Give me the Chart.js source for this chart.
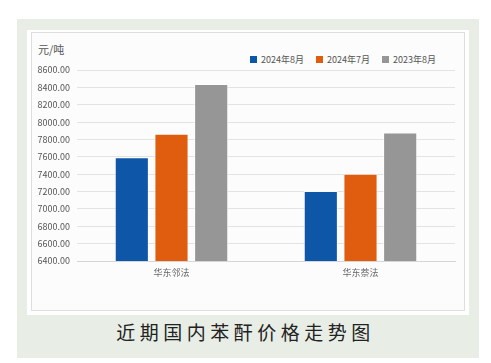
<!DOCTYPE html>
<html>
<head>
<meta charset="utf-8">
<script src="https://cdn.jsdelivr.net/npm/chart.js@4/dist/chart.umd.min.js"></script>
<style>
    html, body { margin: 0; padding: 0; background: #fff; }
    body { width: 491px; height: 363px; position: relative; overflow: hidden;
        font-family: "Noto Sans CJK SC", "Noto Sans", sans-serif; }
    .panel { position: absolute; left: 17px; top: 19px; width: 462px; height: 339px; background: #e8eee6; }
    .card { position: absolute; left: 27px; top: 30px; width: 442px; height: 285px;
        background: #fff; }
    .card-in { position: absolute; left: 31px; top: 32px; width: 434px; height: 279px;
        background: #fcfcfc; border: 1px solid #dedede; box-sizing: border-box; }
    .unit { position: absolute; left: 38px; top: 41px; font-size: 11px; color: #555; }
    .legend { position: absolute; left: 250px; top: 53px; font-size: 9px; color: #555; display: flex; }
    .legend span { display: inline-flex; align-items: center; margin-right: 12px; }
    .legend i { display: inline-block; width: 7px; height: 7px; margin-right: 4px; }
    .title { position: absolute; left: 0; width: 491px; top: 318px; text-align: center;
        font-size: 19px; letter-spacing: 4.5px; color: #222; }
    .wrap { position: absolute; left: 31px; top: 33px; width: 435px; height: 278px; }
    .wrap canvas { display: block; }
</style>
</head>
<body>
<div class="panel"></div>
<div class="card"></div>
<div class="card-in"></div>
<div class="unit">元/吨</div>
<div class="legend" id="legend"></div>
<div class="title">近期国内苯酐价格走势图</div>
<div class="wrap">
    <canvas id="chart" width="435" height="278"></canvas>
</div>
<script>
// categories and series (元/吨)
const categories = ['华东邻法', '华东萘法'];
const seriesNames = ['2024年8月', '2024年7月', '2023年8月'];
const aug2024 = [7595, 7205];
const jul2024 = [7865, 7405];
const aug2023 = [8440, 7880];
const colors = ['#0e56a7', '#e05c0e', '#969696'];

const yMin = 6400, yMax = 8600, yStep = 200;

// legend (html)
const legendEl = document.getElementById('legend');
seriesNames.forEach((name, i) => {
    legendEl.innerHTML += `<span><i style="background:${colors[i]}"></i>${name}</span>`;
});

const datasets = [aug2024, jul2024, aug2023].map((data, i) => ({
    label: seriesNames[i],
    data,
    backgroundColor: colors[i],
    borderColor: 'rgba(255,255,255,0.7)',
    borderWidth: 1,
    categoryPercentage: 0.63,
    barPercentage: 0.86,
}));

new Chart(document.getElementById('chart'), {
    type: 'bar',
    data: { labels: categories, datasets },
    options: {
        responsive: false,
        animation: false,
        layout: { padding: { top: 37, right: 11, left: 0, bottom: 0 } },
        plugins: { legend: { display: false }, tooltip: { enabled: false } },
        scales: {
            x: {
                grid: { display: false, drawTicks: false },
                border: { color: '#d6d6d6' },
                ticks: { color: '#666', font: { size: 9, family: 'Noto Sans CJK SC' }, padding: 6 },
                afterFit: s => { s.height = 50; }
            },
            y: {
                min: yMin, max: yMax,
                grid: { color: '#e3e3e3', drawTicks: false },
                border: { display: false },
                ticks: {
                    stepSize: yStep,
                    color: '#555',
                    padding: 7,
                    font: { size: 9, family: 'Noto Sans CJK SC' },
                    callback: v => v.toFixed(2)
                },
                afterFit: s => { s.width = 46; }
            }
        }
    }
});
</script>
</body>
</html>
